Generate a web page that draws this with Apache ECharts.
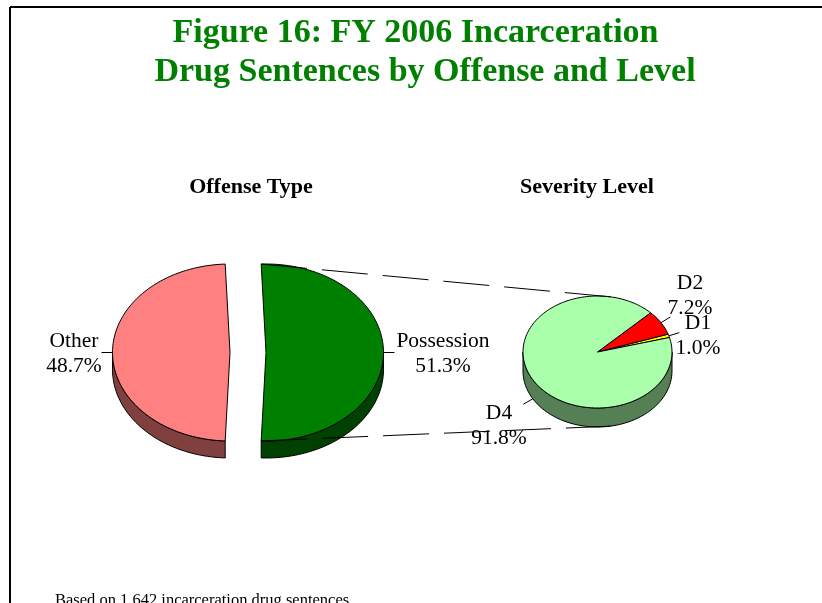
<!DOCTYPE html>
<html>
<head>
<meta charset="utf-8">
<title>Figure 16</title>
<script src="https://cdn.jsdelivr.net/npm/echarts@6/dist/echarts.min.js"></script>
<style>
html,body{margin:0;padding:0;background:#fff;}
#main{width:822px;height:603px;}
</style>
</head>
<body>
<div id="main"></div>
<script>
// data
var offenseNames = ['Possession', 'Other'];
var offenseValues = [51.3, 48.7];
var levelNames = ['D1', 'D2', 'D4'];
var levelValues = [1.0, 7.2, 91.8];

// layout of the two tilted pies
var SERIF = '"Liberation Serif", "Times New Roman", serif';
var offensePie = {
	cx: 248, cy: 352.5, rx: 117.5, ry: 88.5, depth: 17, explode: 18,
	colors: ['#008000', '#FF8080'], sides: ['#004000', '#804040'],
	labels: [[443, 354], [74, 354]]
};
var levelPie = {
	cx: 597.5, cy: 352, rx: 74.5, ry: 56, depth: 19, explode: 0,
	colors: ['#FFFF00', '#FF0000', '#AAFFAA'], sides: ['#808000', '#800000', '#558055'],
	labels: [[698, 336], [690, 296], [499, 426]]
};

function sum(arr){
	var s = 0;
	for(var i = 0;i < arr.length;i++){ s += arr[i]; }
	return s;
}
// angles in degrees, counter clockwise from east
function sliceAngles(values, start){
	var total = sum(values), a = start, res = [];
	for(var i = 0;i < values.length;i++){
		var span = values[i] / total * 360;
		res.push({a0: a, a1: a + span, mid: a + span / 2});
		a += span;
	}
	return res;
}
offensePie.slices = sliceAngles(offenseValues, -offenseValues[0] / sum(offenseValues) * 180);
levelPie.slices = sliceAngles(levelValues, 15);

function rad(d){ return d * Math.PI / 180; }
function centerOf(pie, s){
	return [pie.cx + pie.explode * Math.cos(rad(s.mid)), pie.cy - pie.explode * Math.sin(rad(s.mid)) * pie.ry / pie.rx];
}
function pt(pie, c, ang, dy){
	return [c[0] + pie.rx * Math.cos(rad(ang)), c[1] - pie.ry * Math.sin(rad(ang)) + (dy || 0)];
}

function wallRenderer(pie){
	return function(params, api){
		var s = pie.slices[params.dataIndex];
		var c = centerOf(pie, s);
		var children = [];
		for(var k = -1;k <= 1;k++){
			var lo = Math.max(s.a0, 180 + 360 * k), hi = Math.min(s.a1, 360 + 360 * k);
			if(lo >= hi) continue;
			var pts = [], n = 60, j;
			for(j = 0;j <= n;j++){ pts.push(pt(pie, c, lo + (hi - lo) * j / n)); }
			for(j = n;j >= 0;j--){ pts.push(pt(pie, c, lo + (hi - lo) * j / n, pie.depth)); }
			children.push({
				type: 'polygon', shape: {points: pts},
				style: {fill: pie.sides[params.dataIndex], stroke: '#000', lineWidth: 1}
			});
		}
		return {type: 'group', children: children};
	};
}

function topRenderer(pie, names){
	return function(params, api){
		var i = params.dataIndex;
		var s = pie.slices[i];
		var c = centerOf(pie, s);
		var pts = [c], n = Math.max(4, Math.ceil((s.a1 - s.a0) / 2));
		for(var j = 0;j <= n;j++){ pts.push(pt(pie, c, s.a0 + (s.a1 - s.a0) * j / n)); }
		// leader line from the slice edge outwards
		var lower = Math.sin(rad(s.mid)) < -0.01;
		var p0 = pt(pie, c, s.mid, lower ? pie.depth : 0);
		var p1 = [p0[0] + 11 * Math.cos(rad(s.mid)), p0[1] - 11 * Math.sin(rad(s.mid))];
		return {
			type: 'group',
			children: [{
				type: 'polygon', shape: {points: pts},
				style: {fill: pie.colors[i], stroke: '#000', lineWidth: 1}
			}, {
				type: 'line', shape: {x1: p0[0], y1: p0[1], x2: p1[0], y2: p1[1]},
				style: {stroke: '#000', lineWidth: 1}
			}, {
				type: 'text',
				style: {
					text: names[i] + '\n' + api.value(0).toFixed(1) + '%',
					x: pie.labels[i][0], y: pie.labels[i][1],
					textAlign: 'center', textVerticalAlign: 'middle',
					font: '21.5px ' + SERIF, lineHeight: 25, fill: '#000'
				}
			}]
		};
	};
}

// dashed connectors: top and bottom edge of the Possession slice to the second pie
var possC = centerOf(offensePie, offensePie.slices[0]);
var cTop1 = pt(offensePie, possC, offensePie.slices[0].a1);
var cBot1 = pt(offensePie, possC, offensePie.slices[0].a0);
var cTop2 = pt(levelPie, [levelPie.cx, levelPie.cy], 80);
var cBot2 = pt(levelPie, [levelPie.cx, levelPie.cy], 280, levelPie.depth);

var option = {
	animation: false,
	backgroundColor: '#fff',
	graphic: [
		{type: 'line', shape: {x1: 10, y1: 7, x2: 822, y2: 7}, style: {stroke: '#000', lineWidth: 2}},
		{type: 'line', shape: {x1: 10, y1: 7, x2: 10, y2: 603}, style: {stroke: '#000', lineWidth: 2}},
		{type: 'text', style: {text: 'Figure 16: FY 2006 Incarceration', x: 415.5, y: 33, textAlign: 'center', textVerticalAlign: 'middle', font: 'bold 34px ' + SERIF, fill: '#008000'}},
		{type: 'text', style: {text: 'Drug Sentences by Offense and Level', x: 425, y: 72, textAlign: 'center', textVerticalAlign: 'middle', font: 'bold 34px ' + SERIF, fill: '#008000'}},
		{type: 'text', style: {text: 'Offense Type', x: 251, y: 187, textAlign: 'center', textVerticalAlign: 'middle', font: 'bold 22px ' + SERIF, fill: '#000'}},
		{type: 'text', style: {text: 'Severity Level', x: 587, y: 187, textAlign: 'center', textVerticalAlign: 'middle', font: 'bold 22px ' + SERIF, fill: '#000'}},
		{type: 'line', z: 10, shape: {x1: cTop1[0], y1: cTop1[1], x2: cTop2[0], y2: cTop2[1]}, style: {stroke: '#000', lineWidth: 1, lineDash: [46, 15]}},
		{type: 'line', z: 10, shape: {x1: cBot1[0], y1: cBot1[1], x2: cBot2[0], y2: cBot2[1]}, style: {stroke: '#000', lineWidth: 1, lineDash: [46, 15]}},
		{type: 'text', style: {text: 'Based on 1,642 incarceration drug sentences', x: 55, y: 592, textAlign: 'left', textVerticalAlign: 'top', font: '16.5px ' + SERIF, fill: '#000'}}
	],
	series: [
		{type: 'custom', coordinateSystem: 'none', silent: true, z: 1, data: offenseValues, renderItem: wallRenderer(offensePie)},
		{type: 'custom', coordinateSystem: 'none', silent: true, z: 2, data: offenseValues, renderItem: topRenderer(offensePie, offenseNames)},
		{type: 'custom', coordinateSystem: 'none', silent: true, z: 1, data: levelValues, renderItem: wallRenderer(levelPie)},
		{type: 'custom', coordinateSystem: 'none', silent: true, z: 2, data: levelValues, renderItem: topRenderer(levelPie, levelNames)}
	]
};
var chart = echarts.init(document.getElementById('main'), null, {renderer: 'canvas'});
chart.setOption(option);
</script>
</body>
</html>
